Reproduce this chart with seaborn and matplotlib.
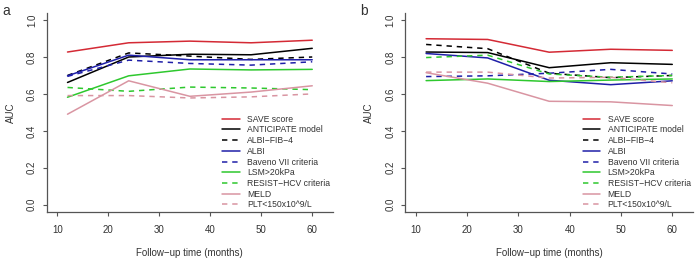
import numpy as np
import pandas as pd
import seaborn as sns
from matplotlib import pyplot as plt

sns.set_style("white")
plt.rcParams['font.family'] = ['Liberation Sans', 'DejaVu Sans']

months = [12, 24, 36, 48, 60]
models = ["SAVE score", "ANTICIPATE model", "ALBI-FIB-4", "ALBI", "Baveno VII criteria",
          "LSM>20kPa", "RESIST-HCV criteria", "MELD", "PLT<150x10^9/L"]

#panel a
a_save = [0.827, 0.877, 0.886, 0.877, 0.891]
a_anticipate = [0.662, 0.800, 0.815, 0.812, 0.847]
a_albi_fib4 = [0.700, 0.822, 0.805, 0.787, 0.800]
a_albi = [0.698, 0.810, 0.785, 0.785, 0.785]
a_baveno = [0.695, 0.783, 0.765, 0.756, 0.774]
a_lsm = [0.582, 0.698, 0.735, 0.730, 0.733]
a_resist = [0.635, 0.614, 0.637, 0.632, 0.623]
a_meld = [0.490, 0.671, 0.587, 0.610, 0.644]
a_plt = [0.591, 0.591, 0.578, 0.584, 0.600]

#panel b
b_save = [0.899, 0.895, 0.826, 0.842, 0.836]
b_anticipate = [0.827, 0.824, 0.742, 0.769, 0.760]
b_albi_fib4 = [0.868, 0.845, 0.712, 0.688, 0.700]
b_albi = [0.819, 0.795, 0.674, 0.650, 0.671]
b_baveno = [0.694, 0.698, 0.712, 0.733, 0.708]
b_lsm = [0.672, 0.681, 0.667, 0.675, 0.681]
b_resist = [0.797, 0.810, 0.708, 0.690, 0.700]
b_meld = [0.715, 0.658, 0.560, 0.557, 0.537]
b_plt = [0.718, 0.718, 0.686, 0.690, 0.660]

colors = ["#d42a35", "black", "black", "#1f1fa8", "#1f1fa8",
          "#2ec82e", "#2ec82e", "#d995a2", "#d995a2"]
styles = ["-", "-", "--", "-", "--", "-", "--", "-", "--"]

panels = {
    "a": [a_save, a_anticipate, a_albi_fib4, a_albi, a_baveno, a_lsm, a_resist, a_meld, a_plt],
    "b": [b_save, b_anticipate, b_albi_fib4, b_albi, b_baveno, b_lsm, b_resist, b_meld, b_plt],
}

fig = plt.figure(figsize=(6.95, 2.61), dpi=100)
ax_pos = {"a": [0.0672, 0.1877, 0.412, 0.7636], "b": [0.583, 0.1877, 0.4144, 0.7636]}
lab_x = {"a": 0.004, "b": 0.518}

for key, series in panels.items():
    ax = fig.add_axes(ax_pos[key])
    for name, vals, c, ls in zip(models, series, colors, styles):
        df = pd.DataFrame({"month": months, "auc": vals})
        sns.lineplot(data=df, x="month", y="auc", ax=ax, color=c, linestyle=ls,
                     linewidth=1.1, label=name)
        if ls == "--":
            ax.lines[-1].set_dashes((3.5, 3.2))
    ax.set_xlim(7.92, 64.08)
    ax.set_ylim(-0.04, 1.04)
    ax.set_xticks([10, 20, 30, 40, 50, 60])
    ax.set_yticks([0.0, 0.2, 0.4, 0.6, 0.8, 1.0])
    ax.set_yticklabels(["0.0", "0.2", "0.4", "0.6", "0.8", "1.0"], rotation=90, va="center")
    ax.tick_params(axis="both", direction="out", length=3, width=0.8, color="#555555",
                   labelsize=7, labelcolor="#333333", left=True, bottom=True)
    ax.tick_params(axis="x", pad=6)
    ax.tick_params(axis="y", pad=4)
    for s in ["top", "right"]:
        ax.spines[s].set_visible(False)
    for s in ["left", "bottom"]:
        ax.spines[s].set_color("#555555")
        ax.spines[s].set_linewidth(0.9)
    ax.set_xlabel("Follow\u2212up time (months)", fontsize=7, color="#333333", labelpad=10)
    ax.set_ylabel("AUC", fontsize=7, color="#333333", labelpad=8)
    leg = ax.legend(loc="lower right", frameon=False, fontsize=6.2, handlelength=2.0,
                    labelspacing=0.2, borderaxespad=0.1, handletextpad=0.9,
                    bbox_to_anchor=(1.0, 0.0), borderpad=0.2)
    for line in leg.get_lines():
        if line.get_linestyle() == "--":
            line.set_dashes((3.5, 3.2))
    for t in leg.get_texts():
        t.set_color("#333333")
        t.set_text(t.get_text().replace("-", "\u2212"))
    fig.text(lab_x[key], 0.985, key, fontsize=10, va="top", ha="left", color="#333333")

fig.savefig("out.png", dpi=100)
